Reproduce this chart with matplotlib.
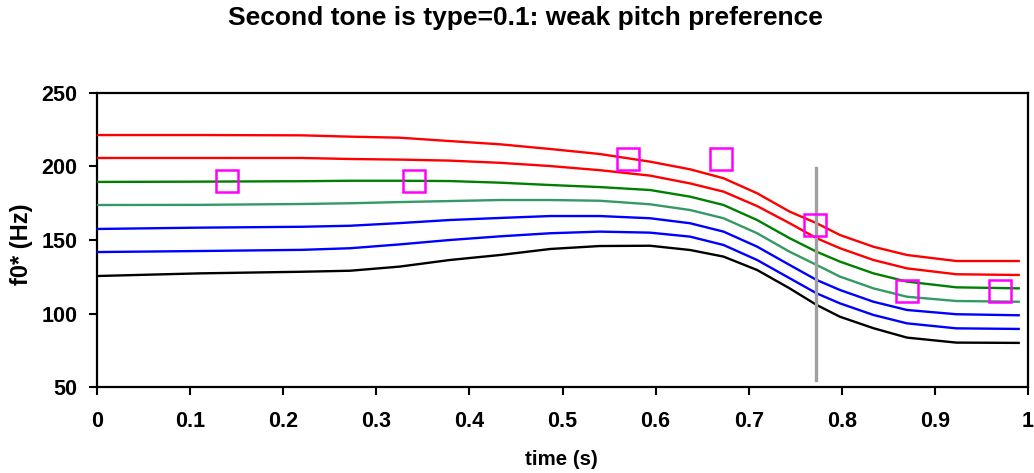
import matplotlib
matplotlib.use("Agg")
import matplotlib.pyplot as plt

plt.rcParams['font.family'] = ['Liberation Sans', 'DejaVu Sans']
plt.rcParams['font.weight'] = 'bold'

title = "Second tone is type=0.1: weak pitch preference"
xlabel = "time (s)"
ylabel = "f0* (Hz)"

t = [0, 0.11, 0.22, 0.272, 0.325, 0.379, 0.433, 0.487, 0.540, 0.594,
     0.637, 0.673, 0.709, 0.744, 0.773, 0.798, 0.834, 0.870, 0.923, 0.99]

red_top = [221.4, 221.4, 221.2, 220.3, 219.6, 217.3, 215.1, 211.9, 208.5, 203.3,
           198.1, 192.0, 181.8, 169.3, 161.4, 153.4, 145.4, 139.8, 135.7, 135.7]
red_2 = [205.8, 205.8, 205.8, 205.1, 204.7, 204.0, 202.5, 200.3, 197.5, 193.8,
         188.5, 182.9, 173.1, 161.4, 151.2, 144.4, 136.4, 130.7, 126.7, 126.2]
green = [189.5, 189.7, 190.0, 190.3, 190.3, 190.1, 189.0, 187.4, 186.0, 184.0,
         179.5, 173.8, 163.6, 151.2, 142.0, 135.3, 127.3, 121.7, 117.8, 117.1]
teal = [173.8, 173.9, 174.5, 175.0, 175.8, 176.5, 177.2, 177.2, 176.7, 174.3,
        170.4, 164.8, 154.6, 142.0, 133.0, 125.1, 117.1, 111.4, 108.5, 108.0]
blue_1 = [157.5, 158.4, 159.0, 159.7, 161.5, 163.6, 165.0, 166.3, 166.3, 164.8,
          161.4, 155.7, 145.5, 133.0, 122.8, 116.0, 108.0, 102.4, 99.5, 98.8]
blue_2 = [141.8, 142.5, 143.3, 144.4, 147.0, 150.0, 152.5, 154.6, 155.7, 155.0,
          152.3, 146.6, 136.4, 124.0, 113.7, 106.9, 99.0, 93.3, 89.9, 89.5]
black = [125.5, 127.3, 128.4, 129.1, 131.9, 136.4, 139.8, 143.9, 145.9, 146.1,
         143.2, 138.7, 129.6, 117.1, 105.8, 97.8, 90.0, 83.6, 80.2, 80.0]

series = [red_top, red_2, green, teal, blue_1, blue_2, black]
colors = ['#FF0000', '#FF0000', '#008000', '#339966', '#0000FF', '#0000FF', '#000000']

target_t = [0.14, 0.34, 0.57, 0.67, 0.771, 0.87, 0.97]
target_f = [190, 190, 205, 205, 160, 115, 115]

marker_t = 0.772
marker_range = [55, 199]

xticks = [0, 0.1, 0.2, 0.3, 0.4, 0.5, 0.6, 0.7, 0.8, 0.9, 1]
xticklabels = ["0", "0.1", "0.2", "0.3", "0.4", "0.5", "0.6", "0.7", "0.8", "0.9", "1"]
yticks = [50, 100, 150, 200, 250]

fig = plt.figure(figsize=(10.34, 4.73), dpi=100)
ax = fig.add_axes([97/1034, 86/473, 931/1034, 294/473])

for s, c in zip(series, colors):
    ax.plot(t, s, color=c, lw=1.7, zorder=3)

ax.plot([marker_t, marker_t], marker_range, color='#A0A0A0', lw=2.4, zorder=4)

ax.plot(target_t, target_f, linestyle='none', marker='s', ms=16, mfc='none',
        mec='#FF00FF', mew=1.8, zorder=5)

ax.set_xlim(0, 1)
ax.set_ylim(50, 250)
ax.set_xticks(xticks)
ax.set_xticklabels(xticklabels)
ax.set_yticks(yticks)
for sp in ax.spines.values():
    sp.set_linewidth(1.6)
    sp.set_color('black')
ax.tick_params(direction='out', length=6, width=1.5)
ax.tick_params(axis='x', labelsize=15.5, pad=11)
ax.tick_params(axis='y', labelsize=15.5, pad=8)
for lab in ax.get_xticklabels() + ax.get_yticklabels():
    lab.set_fontweight('bold')

ax.set_xlabel(xlabel, fontsize=14.8, fontweight='bold')
ax.xaxis.label.set_va('center')
ax.xaxis.set_label_coords(0.499, -0.245)
ax.set_ylabel(ylabel, fontsize=17, fontweight='bold')
ax.yaxis.label.set_va('center')
ax.yaxis.set_label_coords(-0.0816, 0.486)
fig.text(0.508, 1 - 18.5/473, title, ha='center', va='center', fontsize=19, fontweight='bold')

fig.savefig("out.png", dpi=100)
